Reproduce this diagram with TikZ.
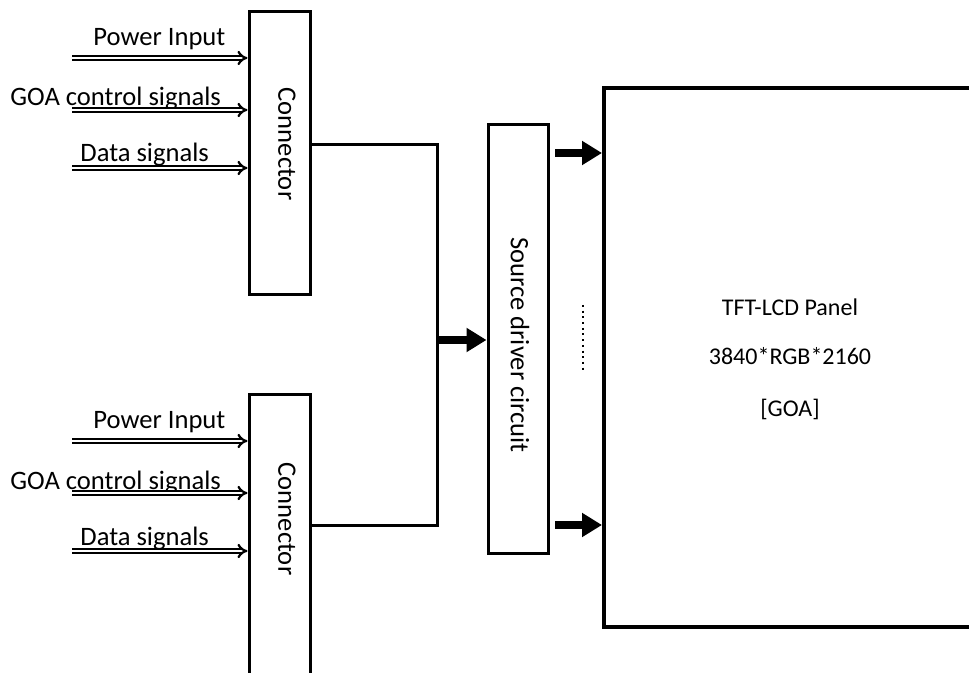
\documentclass[tikz,border=0pt]{standalone}
\usepackage{fontspec}
\setmainfont{Carlito}
\usetikzlibrary{arrows.meta}

\begin{document}
\begin{tikzpicture}[x=0.5pt, y=-0.5pt, line join=miter,
  box/.style = {draw, line width=1.5pt, inner sep=0pt},
  lbl/.style = {font=\fontsize{13.3}{15}\selectfont, inner sep=0pt},
  side/.style = {lbl, rotate=-90},
  ptxt/.style = {font=\fontsize{12}{14}\selectfont, inner sep=0pt, anchor=base},
  inarrow/.style = {double, line width=1.1pt, double distance=1.2pt, -{Implies[scale=1.4]}},
  bigarrow/.style = {line width=4pt, -{Triangle[length=10pt, width=11.5pt]}},
  bus/.style = {line width=1.5pt}]
\useasboundingbox (0,0) rectangle (969,673);
\clip (0,0) rectangle (969,673);

% connectors
\node[box, minimum width=30.5pt, minimum height=141.5pt] (conA) at (279.5,153.5) {};
\node[box, minimum width=30.5pt, minimum height=152.5pt] (conB) at (279.5,547.5) {};
\node[side] (conAtxt) at (287,144) {Connector};
\node[side] (conBtxt) at (287,519) {Connector};

% inputs
\foreach \g/\dy in {A/0, B/383} {
  \node[lbl, anchor=base west] (pwr\g) at (93,46+\dy) {Power Input};
  \node[lbl, anchor=base west] (goa\g) at (10,106+\dy) {GOA control signals};
  \node[lbl, anchor=base west] (dat\g) at (80,162+\dy) {Data signals};
  \coordinate (ip\g) at (72,58+\dy);
  \coordinate (ig\g) at (72,110+\dy);
  \coordinate (id\g) at (72,168+\dy);
  \draw[inarrow] (ip\g) -- (ip\g -| con\g.west);
  \draw[inarrow] (ig\g) -- (ig\g -| con\g.west);
  \draw[inarrow] (id\g) -- (id\g -| con\g.west);
}

% source driver
\node[box, minimum width=30pt, minimum height=214pt] (drv) at (518,339) {};
\node[side] (drvtxt) at (520,345) {Source driver circuit};

% panel
\node[box, line width=2pt, minimum width=185.5pt, minimum height=269.5pt] (panel) at (789.5,357.5) {};
\node[ptxt] (pnl1) at (790,316) {TFT-LCD Panel};
\node[ptxt] (pnl2) at (790,365) {3840*RGB*2160};
\node[ptxt] (pnl3) at (790,416) {[GOA]};

% bus
\coordinate (busT) at (437,145);
\coordinate (busB) at (437,525);
\coordinate (busM) at (437,340);
\draw[bus] (conA.east |- busT) -- (busT) -- (busB) -- (conB.east |- busB);
\draw[bigarrow] (busM) -- (busM -| drv.west);

% outputs
\coordinate (outT) at (555,153);
\coordinate (outB) at (555,525);
\draw[bigarrow] (outT) -- (outT -| panel.west);
\draw[bigarrow] (outB) -- (outB -| panel.west);

\draw[line width=1pt, dash pattern=on 1pt off 1.85pt] (583,305) -- (583,373);

\end{tikzpicture}
\end{document}
